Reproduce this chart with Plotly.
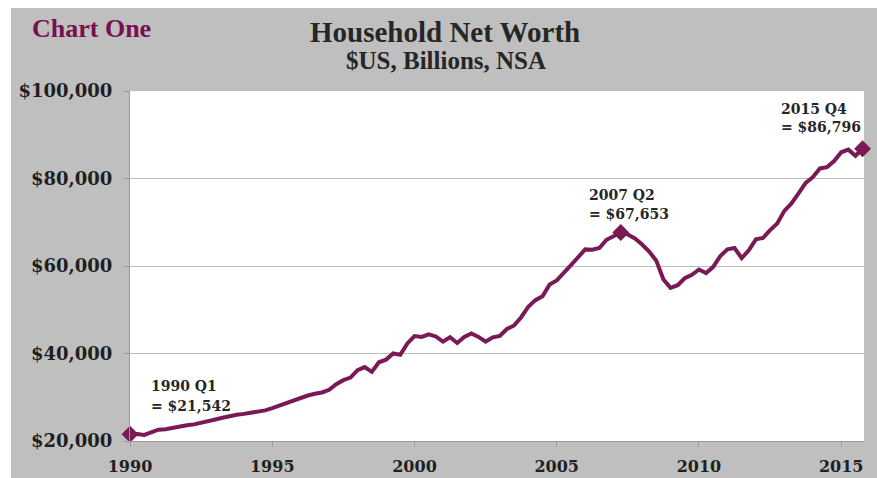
import plotly.graph_objects as go

# ---------------- data ----------------
years = list(range(1990, 2016))
quarter_names = ["Q1", "Q2", "Q3", "Q4"]
net_worth = [
    21542, 21600, 21400, 22000,   # 1990
    22600, 22700, 23000, 23500,   # 1991
    23600, 23800, 24100, 24600,   # 1992
    24900, 25300, 25700, 26000,   # 1993
    26200, 26400, 26700, 27000,   # 1994
    27500, 28100, 28700, 29300,   # 1995
    30000, 30400, 30800, 31100,   # 1996
    31700, 33000, 33900, 34500,   # 1997
    36200, 36900, 35800, 38000,   # 1998
    38600, 40000, 39700, 42300,   # 1999
    44000, 43800, 44400, 43900,   # 2000
    42700, 43700, 42400, 43800,   # 2001
    44600, 43800, 42700, 43700,   # 2002
    44000, 45600, 46400, 48300,   # 2003
    50700, 52200, 53100, 55800,   # 2004
    56700, 58300, 60200, 62000,   # 2005
    63800, 63700, 64100, 66000,   # 2006
    66900, 67653, 67200, 66300,   # 2007
    64900, 63300, 61200, 56900,   # 2008
    55000, 55600, 57200, 58000,   # 2009
    59200, 58400, 59800, 62300,   # 2010
    63800, 64100, 61800, 63600,   # 2011
    66100, 66400, 68200, 69700,   # 2012
    72600, 74300, 76600, 79000,   # 2013
    80300, 82300, 82600, 84000,   # 2014
    86000, 86600, 85200, 86796,   # 2015
]
highlight_labels = ["1990 Q1", "2007 Q2", "2015 Q4"]
y_ticks = [20000, 40000, 60000, 80000, 100000]
x_ticks = [1990, 1995, 2000, 2005, 2010, 2015]

# quarter positions on a decimal-year axis
x_pos = [y + i / 4 for y in years for i in range(4)]
q_labels = [f"{y} {q}" for y in years for q in quarter_names]

hx, hy = [], []
for lab in highlight_labels:
    idx = q_labels.index(lab)
    hx.append(x_pos[idx])
    hy.append(net_worth[idx])

MAROON = "#7A1A54"
SERIF = "DejaVu Serif"
TITLE_FONT = "Liberation Serif"
TEXT = "#262626"

fig = go.Figure()
fig.add_trace(go.Scatter(
    x=x_pos, y=net_worth, mode="lines",
    line=dict(color=MAROON, width=4),
    hoverinfo="skip", showlegend=False,
))
fig.add_trace(go.Scatter(
    x=hx, y=hy, mode="markers",
    marker=dict(symbol="diamond", size=13, color=MAROON),
    cliponaxis=False, showlegend=False,
))

# annotations for highlighted points: (x, y of first line, y of second line)
ann_pos = [(1990.68, 32600, 28000), (2006.05, 76200, 72000), (2012.80, 95900, 91700)]
for lab, v, (ax, ay1, ay2) in zip(highlight_labels, hy, ann_pos):
    for txt, ay in ((lab, ay1), (f"= ${v:,}", ay2)):
        fig.add_annotation(
            x=ax, y=ay, xref="x", yref="y",
            text=txt, showarrow=False,
            xanchor="left", yanchor="middle", align="left",
            font=dict(family=SERIF, size=14, color=TEXT, weight="bold"),
        )

W, H = 877, 478
ml, mr, mt, mb = 130, 13, 91, 37
pw, ph = W - ml - mr, H - mt - mb

def px_x(x):
    return (x - ml) / pw

def px_y(y):
    return (H - mb - y) / ph

# titles
fig.add_annotation(x=px_x(30), y=px_y(28), xref="paper", yref="paper",
                   text="<b>Chart One</b>", showarrow=False, xanchor="left", yanchor="middle",
                   font=dict(family=TITLE_FONT, size=26, color="#780F4F"))
fig.add_annotation(x=px_x(445), y=px_y(32), xref="paper", yref="paper",
                   text="<b>Household Net Worth</b>", showarrow=False,
                   xanchor="center", yanchor="middle",
                   font=dict(family=TITLE_FONT, size=29, color=TEXT))
fig.add_annotation(x=px_x(446), y=px_y(60), xref="paper", yref="paper",
                   text="<b>$US, Billions, NSA</b>", showarrow=False,
                   xanchor="center", yanchor="middle",
                   font=dict(family=TITLE_FONT, size=25, color=TEXT))

# thin white strips at top and left of the grey panel
fig.add_shape(type="rect", xref="paper", yref="paper",
              x0=px_x(-5), x1=px_x(890), y0=px_y(8), y1=px_y(-5),
              fillcolor="white", line=dict(width=0), layer="below")
fig.add_shape(type="rect", xref="paper", yref="paper",
              x0=px_x(-5), x1=px_x(11), y0=px_y(490), y1=px_y(-5),
              fillcolor="white", line=dict(width=0), layer="below")

fig.update_layout(
    width=W, height=H,
    margin=dict(l=ml, r=mr, t=mt, b=mb, pad=0, autoexpand=False),
    paper_bgcolor="#BFBFBF", plot_bgcolor="white",
    showlegend=False,
    xaxis=dict(
        range=[1990, 2015.8], tickvals=x_ticks, ticktext=[str(t) for t in x_ticks],
        showgrid=False, zeroline=False, automargin=False,
        showline=True, linecolor="#9A9A9A", linewidth=1,
        ticks="outside", ticklen=5, tickcolor="#9A9A9A",
        ticklabelstandoff=6,
        tickfont=dict(family=SERIF, size=16, color="#1F1F1F", weight="bold"),
    ),
    yaxis=dict(
        range=[20000, 100000], tickvals=y_ticks,
        ticktext=[f"${t:,}" for t in y_ticks],
        showgrid=True, gridcolor="#BDBDBD", gridwidth=1, zeroline=False,
        automargin=False,
        showline=True, linecolor="#9A9A9A", linewidth=1,
        ticks="outside", ticklen=5, tickcolor="#9A9A9A",
        ticklabelstandoff=8,
        tickfont=dict(family=SERIF, size=18, color="#1F1F1F", weight="bold"),
    ),
)

fig.write_html(
    "out.html",
    post_script="document.body.style.margin='0';document.body.style.overflow='hidden';",
)
